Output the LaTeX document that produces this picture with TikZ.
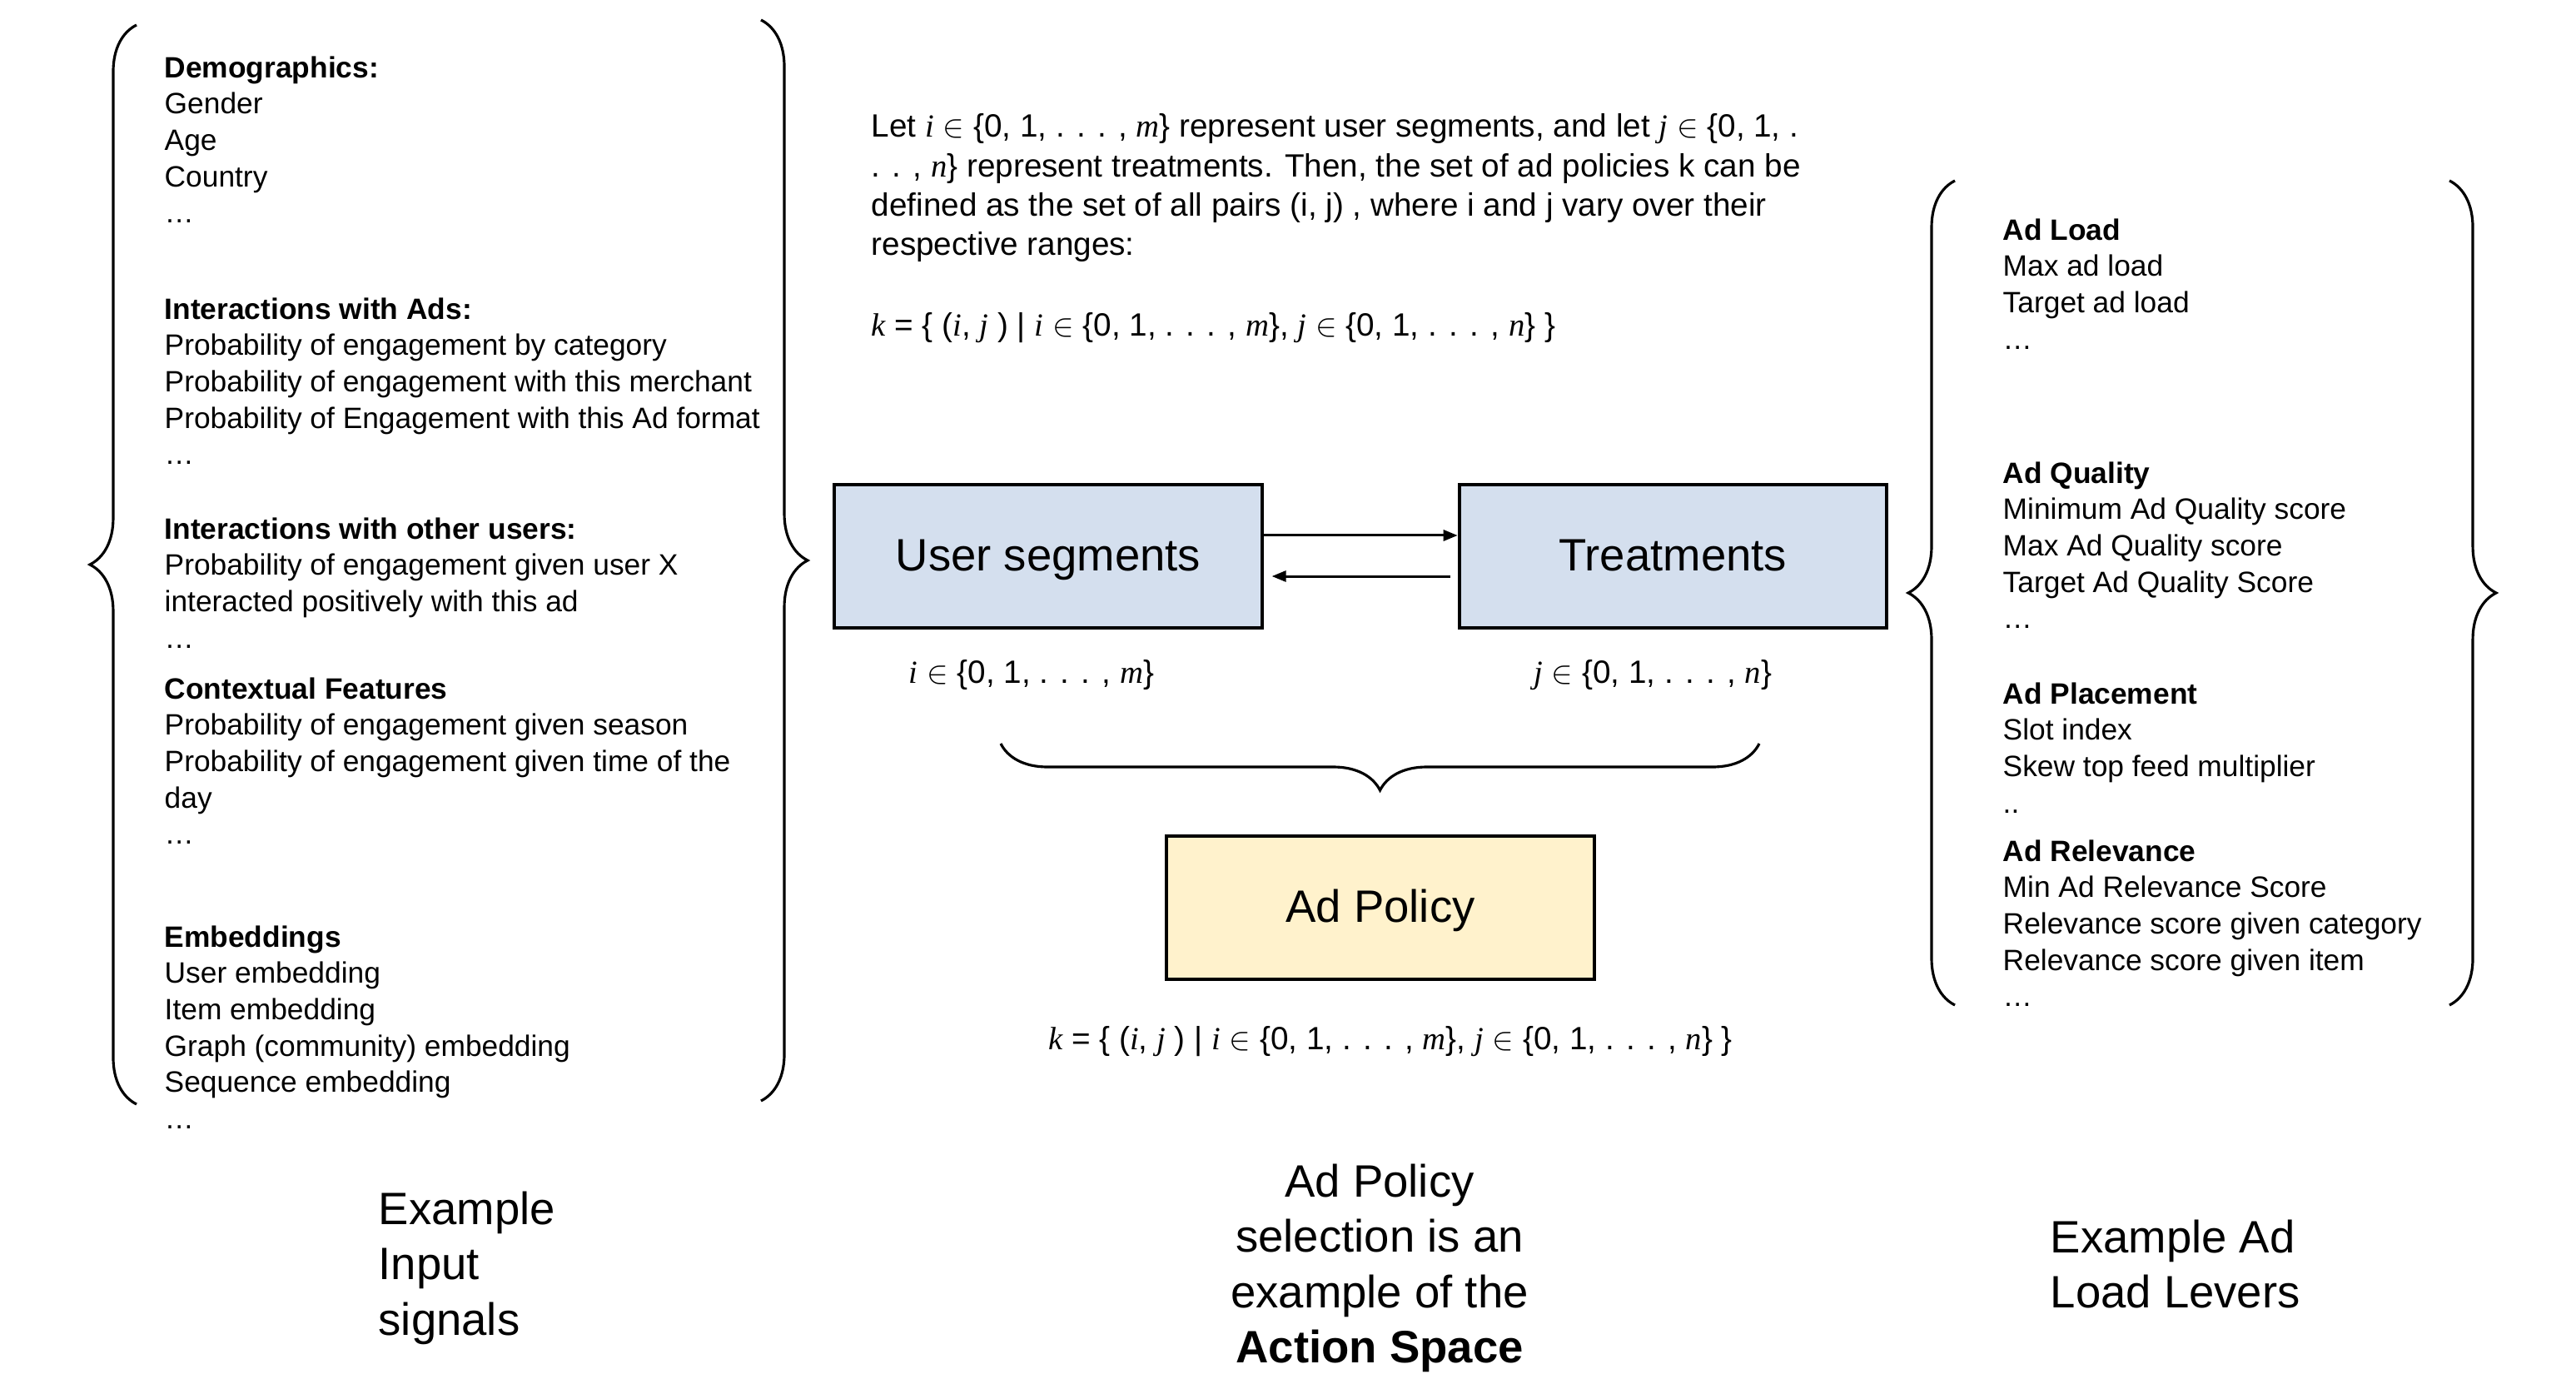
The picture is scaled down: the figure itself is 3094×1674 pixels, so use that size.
\documentclass[tikz,border=0pt]{standalone}
\usepackage{fontspec}
\setmainfont{Liberation Sans}
\newfontfamily\serifit{Liberation Serif}
\usepackage{xcolor}
\usepackage{tikz}
\usetikzlibrary{arrows.meta, positioning, decorations.pathreplacing}
\definecolor{segblue}{HTML}{D4DFEE}
\definecolor{policyyellow}{HTML}{FFF2CC}
\newcommand{\mv}[1]{{\serifit\itshape #1}}
\newcommand{\range}[1]{$\in$ \{0, 1, . . . , \mv{#1}\}}
\tikzstyle{listing}  = [anchor=north west, align=left, inner sep=0pt, font=\fontsize{10.05}{12.4}\selectfont]
\tikzstyle{textblock}= [anchor=north west, align=left, inner sep=0pt, font=\fontsize{11}{13.45}\selectfont]
\tikzstyle{box}      = [rectangle, draw, line width=1.1pt, minimum width=5.13cm, minimum height=1.72cm, inner sep=0pt, text height=11.2pt, text depth=1.4pt, font=\fontsize{15.5}{18}\selectfont]
\tikzstyle{setlabel} = [inner sep=0pt, font=\fontsize{11}{13}\selectfont]
\tikzstyle{caption}  = [anchor=north, inner sep=0pt, font=\fontsize{15.5}{18.9}\selectfont]
\tikzstyle{arrow}    = [-{Triangle[length=1.7mm, width=1.3mm]}, line width=0.85pt]
\tikzstyle{bigbrace} = [decorate, decoration={brace, amplitude=0.56cm}, line width=0.9pt]

\begin{document}
\begin{tikzpicture}[x=0.01cm, y=-0.01cm]
    \useasboundingbox (0,0) rectangle (3094,1674);

    % input signals
    \node (demo) [listing] at (197,67) {\textbf{Demographics:}\\Gender\\Age\\Country\\…};
    \node (adsint) [listing] at (197,357) {\textbf{Interactions with Ads:}\\Probability of engagement by category\\Probability of engagement with this merchant\\Probability of Engagement with this Ad format\\…};
    \node (userint) [listing] at (197,621) {\textbf{Interactions with other users:}\\Probability of engagement given user X\\interacted positively with this ad\\…};
    \node (context) [listing] at (197,813) {\textbf{Contextual Features}\\Probability of engagement given season\\Probability of engagement given time of the\\day\\…};
    \node (embed) [listing] at (197,1111) {\textbf{Embeddings}\\User embedding\\Item embedding\\Graph (community) embedding\\Sequence embedding\\…};
    \draw [bigbrace] (164,1326) -- (164,30);
    \draw [bigbrace] (914,24) -- (914,1322);

    % action space
    \node (para) [textblock] at (1046,136) {Let \mv{i} \range{m} represent user segments, and let \mv{j} $\in$ \{0, 1, .\\. . , \mv{n}\} represent treatments. Then, the set of ad policies k can be\\defined as the set of all pairs (i, j) , where i and j vary over their\\respective ranges:};
    \node (kdef) [textblock] at (1046,375) {\mv{k} = \{ (\mv{i}, \mv{j} ) | \mv{i} \range{m}, \mv{j} \range{n} \}};

    \node (user) [box, fill=segblue] at (1259,668) {User segments};
    \node (treat) [box, fill=segblue, right=2.33cm of user] {Treatments};
    \node (ilabel) [setlabel, below=3.6mm of user, xshift=-2mm] {\mv{i} \range{m}};
    \node (jlabel) [setlabel, below=3.6mm of treat, xshift=-2.4mm] {\mv{j} \range{n}};
    \node (policy) [box, fill=policyyellow] at (1658,1090) {Ad Policy};
    \node (kformula) [setlabel, below=5.4mm of policy, xshift=1.2mm] {\mv{k} = \{ (\mv{i}, \mv{j} ) | \mv{i} \range{m}, \mv{j} \range{n} \}};

    \draw [arrow] ([yshift=0.25cm]user.east) -- ([yshift=0.25cm]treat.west);
    \draw [arrow, shorten <=0.9mm, shorten >=1mm] ([yshift=-0.24cm]treat.west) -- ([yshift=-0.24cm]user.east);
    \draw [bigbrace] (2113,893) -- (1202,893);

    % ad load levers
    \node (adload) [listing] at (2405,262) {\textbf{Ad Load}\\Max ad load\\Target ad load\\…};
    \node (adquality) [listing] at (2405,554) {\textbf{Ad Quality}\\Minimum Ad Quality score\\Max Ad Quality score\\Target Ad Quality Score\\…};
    \node (adplace) [listing] at (2405,819) {\textbf{Ad Placement}\\Slot index\\Skew top feed multiplier\\..};
    \node (adrel) [listing] at (2405,1008) {\textbf{Ad Relevance}\\Min Ad Relevance Score\\Relevance score given category\\Relevance score given item\\…};
    \draw [bigbrace] (2348,1207) -- (2348,217);
    \draw [bigbrace] (2942,217) -- (2942,1207);

    % captions
    \node (capinput) [caption, anchor=north west, align=left] at (454,1430) {Example\\Input\\signals};
    \node (capaction) [caption, align=center] at (1657,1397) {Ad Policy\\selection is an\\example of the\\\textbf{Action Space}};
    \node (caplevers) [caption, anchor=north west, align=left] at (2462,1464) {Example Ad\\Load Levers};
\end{tikzpicture}
\end{document}
